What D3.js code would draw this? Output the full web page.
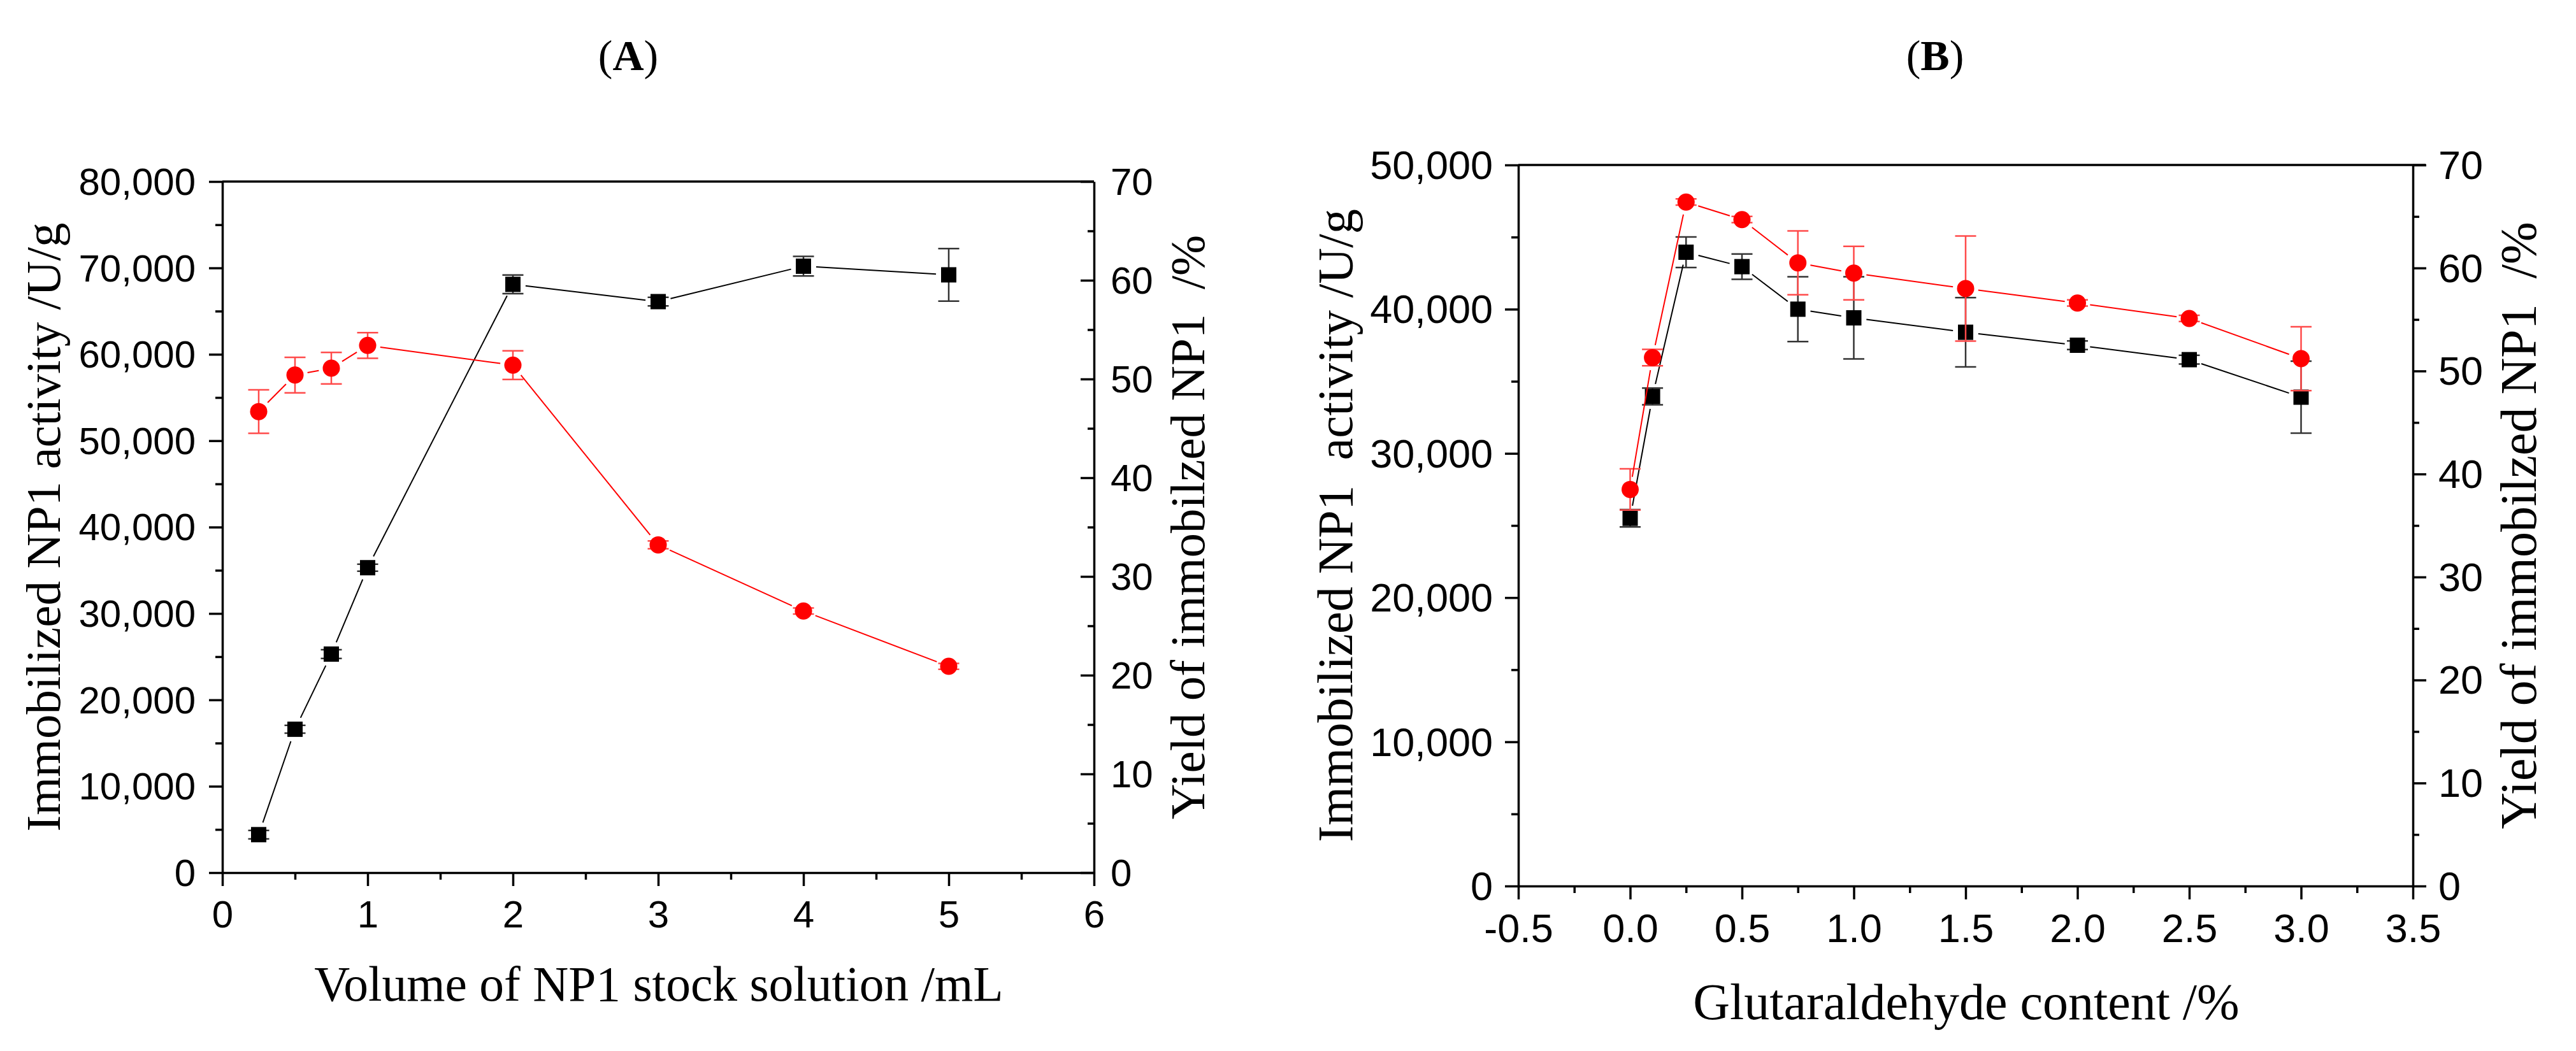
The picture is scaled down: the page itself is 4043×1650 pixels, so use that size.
<!DOCTYPE html>
<html lang="en">
<head>
<meta charset="UTF-8">
<title>Immobilized NP1 activity and yield</title>
<script src="https://d3js.org/d3.v7.min.js"></script>
<style>
    body { margin: 0; background: #fff; }
    .tick text { font-family: "Liberation Sans", Arial, sans-serif; fill: #000; }
    .title { font-family: "Liberation Serif", "Times New Roman", serif; fill: #000; white-space: pre; }
</style>
</head>
<body>
<svg id="chart" width="4043" height="1650"></svg>
<script>
// (A) volume of NP1 stock solution
const volume = [0.25, 0.5, 0.75, 1, 2, 3, 4, 5];
const activityA = [4400, 16600, 25300, 35300, 68100, 66100, 70200, 69200];
const activityErrA = [490, 450, 500, 400, 1080, 490, 1130, 3040];
const yieldA = [46.7, 50.4, 51.1, 53.4, 51.4, 33.2, 26.5, 20.9];
const yieldErrA = [2.2, 1.8, 1.6, 1.3, 1.45, 0.4, 0.3, 0.3];

// (B) glutaraldehyde content
const glutaraldehyde = [0, 0.1, 0.25, 0.5, 0.75, 1, 1.5, 2, 2.5, 3];
const activityB = [25500, 33950, 43950, 42950, 40000, 39400, 38400, 37500, 36500, 33900];
const activityErrB = [600, 580, 1060, 880, 2250, 2850, 2400, 300, 300, 2500];
const yieldB = [38.5, 51.3, 66.4, 64.7, 60.5, 59.5, 58.0, 56.6, 55.1, 51.2];
const yieldErrB = [2.0, 0.8, 0.3, 0.3, 3.1, 2.6, 5.1, 0.3, 0.3, 3.1];

// tick values
const xMajorA = [0, 1, 2, 3, 4, 5, 6];
const xMinorA = [0.5, 1.5, 2.5, 3.5, 4.5, 5.5];
const yMajorA = [0, 10000, 20000, 30000, 40000, 50000, 60000, 70000, 80000];
const xMajorB = [-0.5, 0, 0.5, 1, 1.5, 2, 2.5, 3, 3.5];
const xMinorB = [-0.25, 0.25, 0.75, 1.25, 1.75, 2.25, 2.75, 3.25];
const yMajorB = [0, 10000, 20000, 30000, 40000, 50000];
const yieldMajor = [0, 10, 20, 30, 40, 50, 60, 70];

const svg = d3.select("#chart");
const AXIS_W = 3.5;

function minorBetween(major) {
    const out = [];
    for (let i = 0; i < major.length - 1; i++) out.push((major[i] + major[i + 1]) / 2);
    return out;
}

function styleAxis(sel) {
    sel.select(".domain").attr("stroke", "#000").attr("stroke-width", AXIS_W);
    sel.selectAll(".tick line").attr("stroke", "#000").attr("stroke-width", AXIS_W);
}

// connecting line broken around each marker, as Origin draws it
function brokenLine(g, xs, ys, color, gap) {
    const segs = [];
    for (let i = 0; i < xs.length - 1; i++) {
        const dx = xs[i + 1] - xs[i], dy = ys[i + 1] - ys[i];
        const len = Math.hypot(dx, dy);
        if (len <= 2 * gap) continue;
        const ux = dx / len, uy = dy / len;
        segs.push([xs[i] + ux * gap, ys[i] + uy * gap, xs[i + 1] - ux * gap, ys[i + 1] - uy * gap]);
    }
    g.selectAll(null).data(segs).enter().append("line")
        .attr("x1", d => d[0]).attr("y1", d => d[1])
        .attr("x2", d => d[2]).attr("y2", d => d[3])
        .attr("stroke", color).attr("stroke-width", 2);
}

function errorBars(g, xs, v, e, y, color) {
    const cap = 16.5;
    const bars = g.append("g");
    xs.forEach((xp, i) => {
        const y1 = y(v[i] - e[i]), y2 = y(v[i] + e[i]);
        bars.append("line").attr("x1", xp).attr("x2", xp).attr("y1", y1).attr("y2", y2);
        bars.append("line").attr("x1", xp - cap).attr("x2", xp + cap).attr("y1", y1).attr("y2", y1);
        bars.append("line").attr("x1", xp - cap).attr("x2", xp + cap).attr("y1", y2).attr("y2", y2);
    });
    bars.selectAll("line").attr("stroke", color).attr("stroke-width", 2.5);
}

function drawPanel(p) {
    const x = d3.scaleLinear().domain(p.xDomain).range([p.left, p.right]);
    const yL = d3.scaleLinear().domain([0, p.yMax]).range([p.bottom, p.top]);
    const yR = d3.scaleLinear().domain([0, 70]).range([p.bottom, p.top]);
    const g = svg.append("g");

    // top frame line
    g.append("line")
        .attr("x1", p.left).attr("x2", p.right + (p.rightInward ? 0 : 20))
        .attr("y1", p.top).attr("y2", p.top)
        .attr("stroke", "#000").attr("stroke-width", AXIS_W);

    // bottom axis
    g.append("g").attr("transform", `translate(0,${p.bottom})`)
        .call(d3.axisBottom(x).tickValues(p.xMinor).tickFormat("").tickSize(11).tickSizeOuter(0))
        .call(s => s.select(".domain").remove())
        .call(styleAxis);
    g.append("g").attr("transform", `translate(0,${p.bottom})`)
        .call(d3.axisBottom(x).tickValues(p.xMajor).tickFormat(p.xFormat)
            .tickSize(21).tickSizeOuter(0).tickPadding(22))
        .call(styleAxis)
        .call(s => s.selectAll("text").attr("font-size", p.tickFont));

    // left axis
    g.append("g").attr("transform", `translate(${p.left},0)`)
        .call(d3.axisLeft(yL).tickValues(minorBetween(p.yMajor)).tickFormat("").tickSize(11).tickSizeOuter(0))
        .call(s => s.select(".domain").remove())
        .call(styleAxis);
    g.append("g").attr("transform", `translate(${p.left},0)`)
        .call(d3.axisLeft(yL).tickValues(p.yMajor).tickFormat(d3.format(","))
            .tickSize(21).tickSizeOuter(0).tickPadding(p.leftPad))
        .call(styleAxis)
        .call(s => s.selectAll("text").attr("font-size", p.tickFont).attr("dy", "0.34em"));

    // right axis
    const dir = p.rightInward ? -1 : 1;
    g.append("g").attr("transform", `translate(${p.right},0)`)
        .call(d3.axisRight(yR).tickValues(minorBetween(yieldMajor)).tickFormat("").tickSize(10 * dir).tickSizeOuter(0))
        .call(s => s.select(".domain").remove())
        .call(styleAxis);
    g.append("g").attr("transform", `translate(${p.right},0)`)
        .call(d3.axisRight(yR).tickValues(yieldMajor)
            .tickSize(21 * dir).tickSizeOuter(0).tickPadding(p.rightPad))
        .call(styleAxis)
        .call(s => s.selectAll("text").attr("font-size", p.tickFont).attr("dy", "0.34em"));

    // activity series (black squares)
    const xs = p.xData.map(d => x(d));
    errorBars(g, xs, p.activity, p.activityErr, yL, "#333");
    brokenLine(g, xs, p.activity.map(d => yL(d)), "#000", 20);
    g.selectAll(null).data(p.activity).enter().append("rect")
        .attr("x", (d, i) => xs[i] - 12)
        .attr("y", d => yL(d) - 12)
        .attr("width", 24).attr("height", 24)
        .attr("fill", "#000");

    // yield series (red circles)
    errorBars(g, xs, p.yield, p.yieldErr, yR, "#ff4a4a");
    brokenLine(g, xs, p.yield.map(d => yR(d)), "#ff0000", 20);
    g.selectAll(null).data(p.yield).enter().append("circle")
        .attr("cx", (d, i) => xs[i])
        .attr("cy", d => yR(d))
        .attr("r", 13.5)
        .attr("fill", "#ff0000");

    // panel label
    const lab = g.append("text").attr("class", "title")
        .attr("x", p.labelX).attr("y", 110)
        .attr("text-anchor", "middle").attr("font-size", 68);
    lab.append("tspan").text("(");
    lab.append("tspan").attr("font-weight", "bold").text(p.label);
    lab.append("tspan").text(")");

    // axis titles
    g.append("text").attr("class", "title")
        .attr("x", (p.left + p.right) / 2 + p.xTitleShift).attr("y", p.xTitleY)
        .attr("text-anchor", "middle").attr("font-size", p.xTitleFont)
        .text(p.xTitle);
    g.append("text").attr("class", "title")
        .attr("transform", `translate(${p.leftTitleX},${(p.top + p.bottom) / 2}) rotate(-90)`)
        .attr("text-anchor", "middle").attr("font-size", p.leftTitleFont)
        .text(p.leftTitle);
    g.append("text").attr("class", "title")
        .attr("transform", `translate(${p.rightTitleX},${(p.top + p.bottom) / 2}) rotate(-90)`)
        .attr("text-anchor", "middle").attr("font-size", p.rightTitleFont)
        .text("Yield of immobilzed NP1  /%");
}

drawPanel({
    left: 349, right: 1717, top: 285, bottom: 1370,
    xDomain: [0, 6], yMax: 80000,
    xMajor: xMajorA, xMinor: xMinorA, yMajor: yMajorA,
    xFormat: d3.format("d"),
    xData: volume, activity: activityA, activityErr: activityErrA,
    yield: yieldA, yieldErr: yieldErrA,
    tickFont: 60, leftPad: 21, rightPad: 26, rightInward: true,
    label: "A", labelX: 986,
    xTitle: "Volume of NP1 stock solution /mL", xTitleY: 1571, xTitleShift: 1, xTitleFont: 77.5,
    leftTitle: "Immobilized NP1 activity /U/g", leftTitleX: 94, leftTitleFont: 77,
    rightTitleX: 1890, rightTitleFont: 77
});

drawPanel({
    left: 2383, right: 3787, top: 259, bottom: 1391,
    xDomain: [-0.5, 3.5], yMax: 50000,
    xMajor: xMajorB, xMinor: xMinorB, yMajor: yMajorB,
    xFormat: d => d.toFixed(1),
    xData: glutaraldehyde, activity: activityB, activityErr: activityErrB,
    yield: yieldB, yieldErr: yieldErrB,
    tickFont: 63, leftPad: 19, rightPad: 19, rightInward: false,
    label: "B", labelX: 3037,
    xTitle: "Glutaraldehyde content /%", xTitleY: 1600, xTitleShift: 1, xTitleFont: 80,
    leftTitle: "Immobilized NP1  activity /U/g", leftTitleX: 2122, leftTitleFont: 78.5,
    rightTitleX: 3980, rightTitleFont: 80
});
</script>
</body>
</html>
